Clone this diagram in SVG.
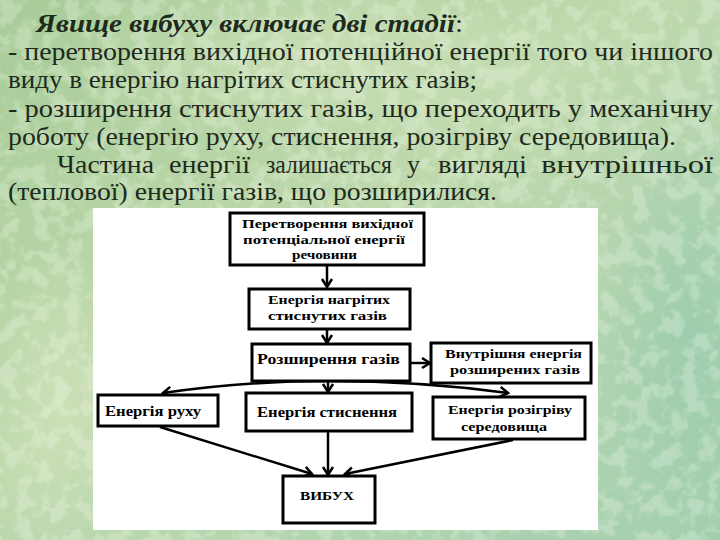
<svg xmlns="http://www.w3.org/2000/svg" width="720" height="540" viewBox="0 0 720 540">
  <defs>
    <linearGradient id="bg" x1="0" y1="0" x2="1" y2="1">
      <stop offset="0" stop-color="#a6cc98"/>
      <stop offset="0.45" stop-color="#bfd9ad"/>
      <stop offset="1" stop-color="#a3cfb0"/>
    </linearGradient>
    <radialGradient id="blob1" cx="0.5" cy="0.5" r="0.5">
      <stop offset="0" stop-color="#d3e2bc" stop-opacity="0.7"/>
      <stop offset="1" stop-color="#d3e2bc" stop-opacity="0"/>
    </radialGradient>
    <radialGradient id="blob2" cx="0.5" cy="0.5" r="0.5">
      <stop offset="0" stop-color="#92c9ad" stop-opacity="0.6"/>
      <stop offset="1" stop-color="#92c9ad" stop-opacity="0"/>
    </radialGradient>
    <filter id="tex" x="0" y="0" width="100%" height="100%">
      <feTurbulence type="fractalNoise" baseFrequency="0.06" numOctaves="3" seed="4" result="n"/>
      <feColorMatrix in="n" type="matrix" values="0 0 0 0 0.95  0 0 0 0 1  0 0 0 0 0.9  0 0 0 -6 3.2"/>
    </filter>
    <marker id="arr" markerUnits="userSpaceOnUse" markerWidth="14" markerHeight="14" refX="0" refY="0" viewBox="-10 -7 12 14" orient="auto">
      <path d="M -8 -5 L 0 0 L -8 5" fill="none" stroke="#000" stroke-width="2.5"/>
    </marker>
    <style>
      .body { font-family: "Liberation Serif", "Times New Roman", serif; font-size: 26px; fill: #1e2a1c; }
      .title { font-weight: bold; font-style: italic; }
      .box { fill: #fff; stroke: #000; stroke-width: 3; }
      .lbl { font-family: "Liberation Serif", "Times New Roman", serif; font-weight: bold; fill: #000; }
      .s13 { font-size: 13px; }
      .s15 { font-size: 15px; }
      .s14 { font-size: 14px; }
      .conn path, .conn line { stroke: #000; stroke-width: 2.5; fill: none; }
    </style>
  </defs>

  <rect width="720" height="540" fill="url(#bg)"/>
  <ellipse cx="330" cy="60" rx="280" ry="90" fill="url(#blob1)"/>
  <ellipse cx="690" cy="330" rx="90" ry="220" fill="url(#blob2)"/>
  <ellipse cx="60" cy="400" rx="80" ry="160" fill="url(#blob1)"/>
  <rect width="720" height="540" filter="url(#tex)" opacity="0.25"/>

  <g id="text-block" class="body">
    <text x="36" y="32" textLength="427" lengthAdjust="spacingAndGlyphs"><tspan class="title">Явище вибуху включає дві стадії</tspan>:</text>
    <text x="8" y="60" textLength="705" lengthAdjust="spacingAndGlyphs">- перетворення вихідної потенційної енергії того чи іншого</text>
    <text x="8" y="88" textLength="469" lengthAdjust="spacingAndGlyphs">виду в енергію нагрітих стиснутих газів;</text>
    <text x="8" y="117" textLength="705" lengthAdjust="spacingAndGlyphs">- розширення стиснутих газів, що переходить у механічну</text>
    <text x="8" y="145" textLength="668" lengthAdjust="spacingAndGlyphs">роботу (енергію руху, стиснення, розігріву середовища).</text>
    <text x="57" y="173" textLength="97" lengthAdjust="spacingAndGlyphs">Частина</text>
    <text x="169" y="173" textLength="81" lengthAdjust="spacingAndGlyphs">енергії</text>
    <text x="266" y="173" textLength="126" lengthAdjust="spacingAndGlyphs">залишається</text>
    <text x="407" y="173" textLength="13" lengthAdjust="spacingAndGlyphs">у</text>
    <text x="438" y="173" textLength="89" lengthAdjust="spacingAndGlyphs">вигляді</text>
    <text x="541" y="173" textLength="172" lengthAdjust="spacingAndGlyphs">внутрішньої</text>
    <text x="8" y="200" textLength="489" lengthAdjust="spacingAndGlyphs">(теплової) енергії газів, що розширилися.</text>
  </g>

  <rect id="panel" x="93" y="208" width="505" height="322" fill="#fff"/>

  <g id="connectors" class="conn">
    <line x1="327" y1="266" x2="327" y2="287" marker-end="url(#arr)"/>
    <line x1="327" y1="330" x2="327" y2="343" marker-end="url(#arr)"/>
    <line x1="411" y1="363" x2="430" y2="363" marker-end="url(#arr)"/>
    <line x1="328" y1="382" x2="328" y2="392" marker-end="url(#arr)"/>
    <path d="M 328 381 Q 245 381 163 393" marker-end="url(#arr)"/>
    <path d="M 328 381 Q 420 381 508 393" marker-end="url(#arr)"/>
    <line x1="160" y1="427" x2="312" y2="474" marker-end="url(#arr)"/>
    <line x1="328" y1="432" x2="328" y2="475" marker-end="url(#arr)"/>
    <line x1="513" y1="440" x2="345" y2="474" marker-end="url(#arr)"/>
  </g>

  <g id="n-peretvorennia">
    <rect class="box" x="230" y="213" width="194" height="52"/>
    <text class="lbl s13" x="242" y="228" textLength="171" lengthAdjust="spacingAndGlyphs">Перетворення вихідної</text>
    <text class="lbl s13" x="243" y="244" textLength="162" lengthAdjust="spacingAndGlyphs">потенціальної енергії</text>
    <text class="lbl s13" x="292" y="259" textLength="65" lengthAdjust="spacingAndGlyphs">речовини</text>
  </g>
  <g id="n-nahritykh">
    <rect class="box" x="249" y="289" width="161" height="40"/>
    <text class="lbl s13" x="268" y="304" textLength="122" lengthAdjust="spacingAndGlyphs">Енергія нагрітих</text>
    <text class="lbl s13" x="268" y="320" textLength="119" lengthAdjust="spacingAndGlyphs">стиснутих газів</text>
  </g>
  <g id="n-rozshyrennia">
    <rect class="box" x="252" y="344" width="158" height="37"/>
    <text class="lbl s15" x="257" y="364" textLength="143" lengthAdjust="spacingAndGlyphs">Розширення газів</text>
  </g>
  <g id="n-vnutrishnia">
    <rect class="box" x="431" y="343" width="160" height="40"/>
    <text class="lbl s13" x="445" y="358" textLength="137" lengthAdjust="spacingAndGlyphs">Внутрішня енергія</text>
    <text class="lbl s13" x="450" y="374" textLength="130" lengthAdjust="spacingAndGlyphs">розширених газів</text>
  </g>
  <g id="n-rukhu">
    <rect class="box" x="98" y="395" width="120" height="31"/>
    <text class="lbl s14" x="105" y="416" textLength="96" lengthAdjust="spacingAndGlyphs">Енергія руху</text>
  </g>
  <g id="n-stysnennia">
    <rect class="box" x="246" y="393" width="166" height="38"/>
    <text class="lbl s14" x="257" y="417" textLength="140" lengthAdjust="spacingAndGlyphs">Енергія стиснення</text>
  </g>
  <g id="n-rozihrivu">
    <rect class="box" x="433" y="397" width="152" height="42"/>
    <text class="lbl s13" x="448" y="414" textLength="124" lengthAdjust="spacingAndGlyphs">Енергія розігріву</text>
    <text class="lbl s13" x="461" y="431" textLength="86" lengthAdjust="spacingAndGlyphs">середовища</text>
  </g>
  <g id="n-vybukh">
    <rect class="box" x="283" y="476" width="92" height="47"/>
    <text class="lbl s13" x="300" y="500" textLength="54" lengthAdjust="spacingAndGlyphs">ВИБУХ</text>
  </g>
</svg>
